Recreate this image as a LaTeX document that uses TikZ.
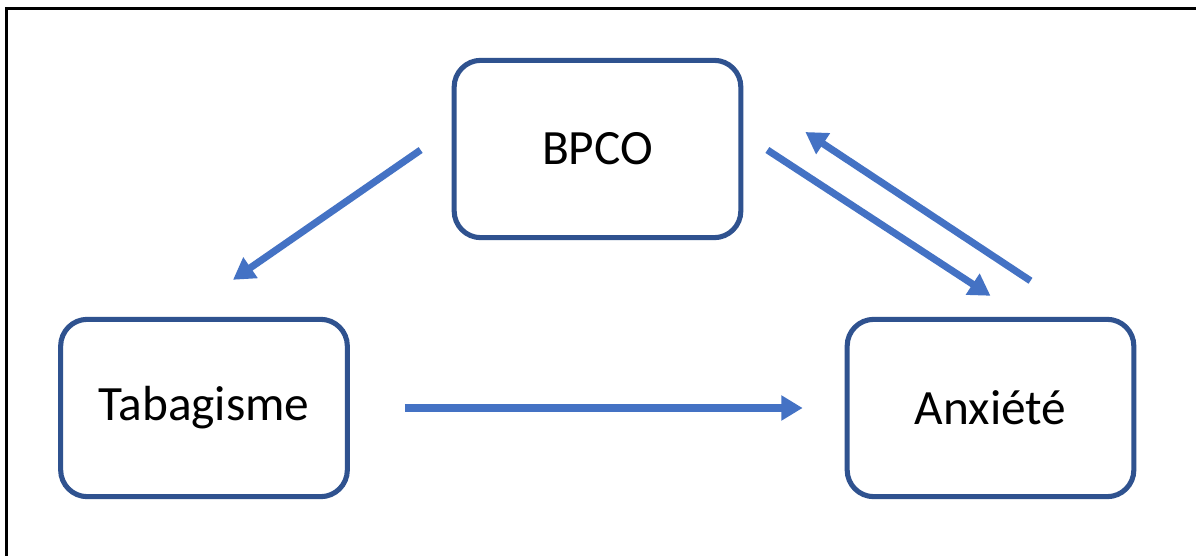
\documentclass[tikz,border=0pt]{standalone}
\usepackage{fontspec}
\setmainfont{Carlito}
\usetikzlibrary{arrows.meta,calc}
\definecolor{boxblue}{HTML}{2F528F}
\definecolor{arrblue}{HTML}{4472C4}
\tikzset{
  box/.style={draw=boxblue, line width=3.8pt, rounded corners=20pt, fill=white,
    minimum width=215pt, minimum height=133pt, inner sep=0pt, font=\fontsize{37}{42}\selectfont},
  arr/.style={draw=arrblue, line width=5.3pt, -{Triangle[length=16pt,width=18pt]}},
  frame/.style={draw=black, line width=2.3pt}
}
\begin{document}
\begin{tikzpicture}[x=0.75pt,y=-0.75pt]
\useasboundingbox (0,0) rectangle (1196,556);
\fill[white] (0,0) rectangle (1196,556);
\coordinate (fA) at (6.5,570);
\coordinate (fB) at (6.5,8.5);
\coordinate (fC) at (1210,8.5);
\draw[frame] (fA) -- (fB) -- (fC);
\node[box] (bpco) at (597.5,149) {BPCO};
\node[box] (tab) at (204,408) {Tabagisme};
\node[box] (anx) at (990.5,408) {Anxiété};
\coordinate (a1s) at ($(bpco.west)+(-31,1)$);
\coordinate (a1e) at ($(tab.north)+(29,-37)$);
\coordinate (a2s) at ($(tab.east)+(55,0)$);
\coordinate (a2e) at ($(anx.west)+(-42,0)$);
\coordinate (a3s) at ($(bpco.east)+(24,1)$);
\coordinate (a3e) at ($(anx.north)+(0,-21)$);
\coordinate (a4s) at ($(anx.north)+(40,-36)$);
\coordinate (a4e) at ($(bpco.east)+(62,-17)$);
\draw[arr] (a1s) -- (a1e);
\draw[arr] (a2s) -- (a2e);
\draw[arr] (a3s) -- (a3e);
\draw[arr] (a4s) -- (a4e);
\end{tikzpicture}
\end{document}
